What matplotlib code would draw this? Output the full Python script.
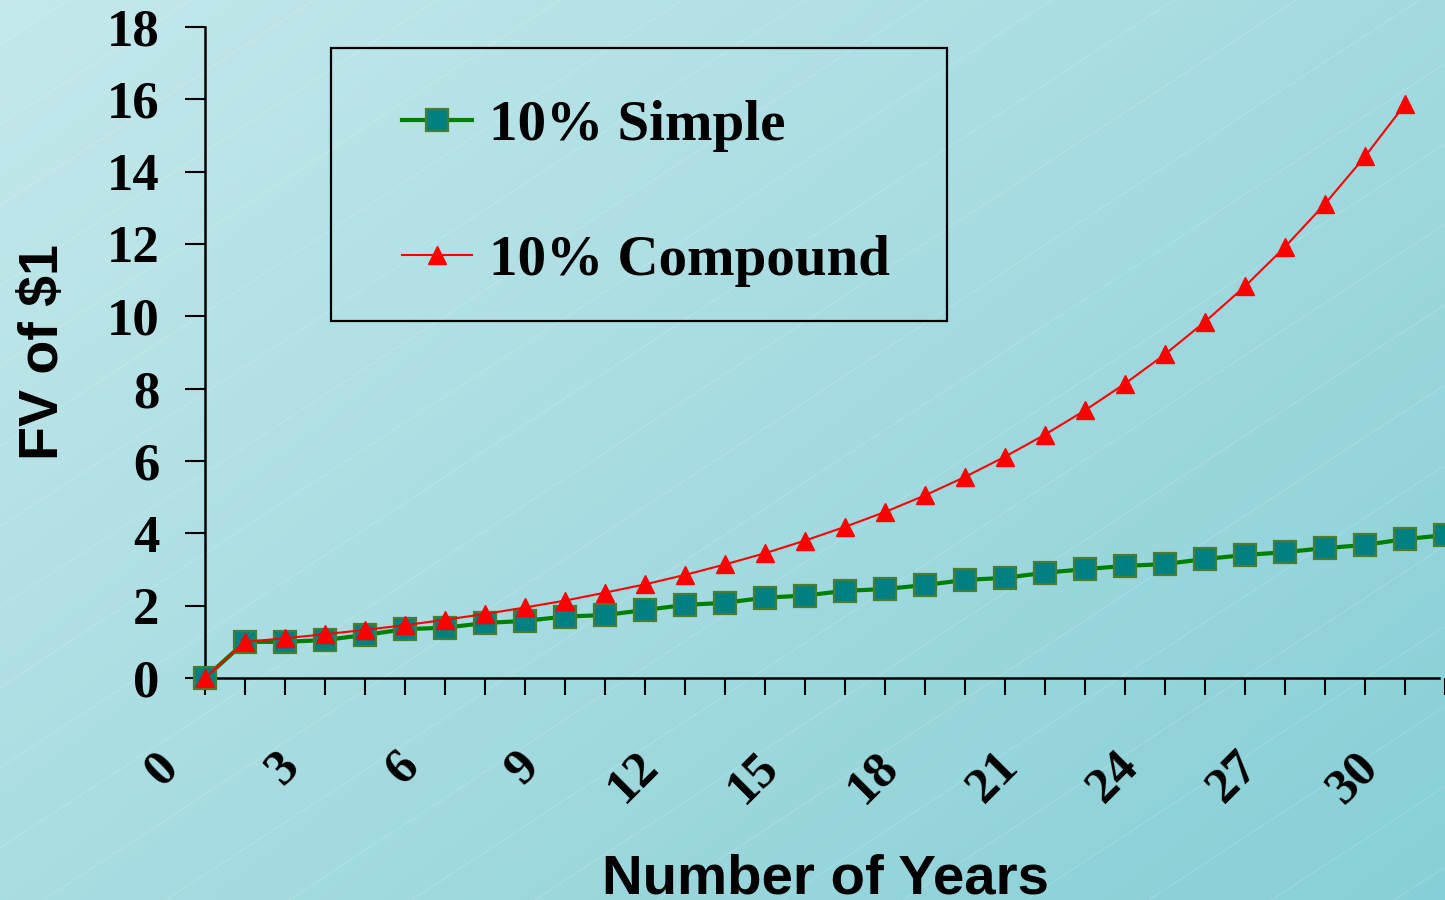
import numpy as np
import matplotlib
matplotlib.use("Agg")
import matplotlib.pyplot as plt
from matplotlib.transforms import ScaledTranslation
from matplotlib.patches import Rectangle

# ---------------- data ----------------
period_index = list(range(32))
simple_values = [0.00, 1.00, 1.00, 1.05, 1.19, 1.35, 1.39, 1.52, 1.58, 1.70, 1.74,
                 1.88, 2.02, 2.08, 2.22, 2.28, 2.41, 2.46, 2.57, 2.71, 2.77, 2.91,
                 3.01, 3.10, 3.15, 3.29, 3.40, 3.48, 3.59, 3.68, 3.84, 3.95]
compound_values = [0.00, 1.00, 1.10, 1.21, 1.33, 1.46, 1.61, 1.77, 1.95, 2.14, 2.36,
                   2.59, 2.85, 3.14, 3.45, 3.80, 4.18, 4.59, 5.05, 5.56, 6.12, 6.73,
                   7.40, 8.14, 8.95, 9.85, 10.83, 11.92, 13.11, 14.42, 15.86]
x_tick_labels = ['0', '3', '6', '9', '12', '15', '18', '21', '24', '27', '30']
y_ticks = [0, 2, 4, 6, 8, 10, 12, 14, 16, 18]
series_names = ['10% Simple', '10% Compound']

W, H = 1445, 900
fig = plt.figure(figsize=(W / 100, H / 100), dpi=100)

# ---------------- background gradient ----------------
bg = fig.add_axes([0, 0, 1, 1], zorder=-10)
gx, gy = np.meshgrid(np.linspace(0, 1, 400), np.linspace(0, 1, 250))
t = 0.55 * gx + 0.45 * gy
c0 = np.array([0.77, 0.912, 0.925])
c1 = np.array([0.53, 0.812, 0.84])
img = c0[None, None, :] * (1 - t[..., None]) + c1[None, None, :] * t[..., None]
bg.imshow(img, aspect='auto', extent=[0, 1, 1, 0], interpolation='bilinear')
# faint diagonal texture lines
for k in np.arange(-1.5, 1.6, 0.085):
    bg.plot([k, k + 1.0], [1.0, -0.05], color='white', lw=0.5, alpha=0.25)
bg.set_xlim(0, 1)
bg.set_ylim(1, 0)
bg.axis('off')

# ---------------- main axes ----------------
left_px, right_px, top_px, bot_px = 165, 1445, 27, 678
ax = fig.add_axes([left_px / W, 1 - bot_px / H, (right_px - left_px) / W, (bot_px - top_px) / H])
ax.patch.set_alpha(0)

x_right = -1 + (right_px - left_px) / 40.19
ax.set_xlim(-1, x_right)
ax.set_ylim(0, 18)

ax.plot(period_index[:len(simple_values)], simple_values, color='#008000', lw=3,
        marker='s', ms=16, mfc='#008080', mec='#4a7d2f', mew=1.6,
        clip_on=False, zorder=3, label=series_names[0])
ax.plot(period_index[:len(compound_values)], compound_values, color='#ff0000', lw=1.5,
        marker='^', ms=13, mfc='#ff0000', mec='#ff0000',
        clip_on=False, zorder=4, label=series_names[1])

for s in ['top', 'right']:
    ax.spines[s].set_visible(False)
ax.spines['left'].set_position(('data', 0))
ax.spines['bottom'].set_bounds(0, x_right)
for s in ['left', 'bottom']:
    ax.spines[s].set_linewidth(1.8)
    ax.spines[s].set_color('black')

# y ticks
ax.set_yticks(y_ticks)
ax.set_yticklabels([str(v) for v in y_ticks])
ax.tick_params(axis='y', direction='out', length=14.5, width=1.5, pad=18.5,
               labelsize=38)
for lab in ax.get_yticklabels():
    lab.set_fontfamily('Liberation Serif')
    lab.set_fontweight('bold')

# x ticks: minor ticks at every period, labelled major ticks
ax.set_xticks(period_index, minor=True)
ax.xaxis.remove_overlapping_locs = False
label_pos = [int(l) - 1 for l in x_tick_labels]
ax.set_xticks(label_pos)
ax.set_xticklabels(x_tick_labels, rotation=45, ha='right')
ax.tick_params(axis='x', which='minor', direction='out', length=12.5, width=1.5)
ax.tick_params(axis='x', which='major', length=0, pad=47, labelsize=37)
off = ScaledTranslation(23 / 100, 0, fig.dpi_scale_trans)
for lab in ax.get_xticklabels():
    lab.set_fontfamily('Liberation Serif')
    lab.set_fontweight('bold')
    lab.set_transform(lab.get_transform() + off)

# axis labels
ax.set_ylabel('FV of $1', fontsize=40, fontweight='bold', family='Liberation Sans',
              va='center')
ax.yaxis.set_label_coords((44 - left_px) / (right_px - left_px), 0.5)
ax.set_xlabel('Number of Years', fontsize=40.6, fontweight='bold', family='Liberation Sans',
              va='baseline')
ax.xaxis.set_label_coords((826 - left_px) / (right_px - left_px),
                          (bot_px - 893) / (bot_px - top_px))

# legend
leg = ax.legend(loc='upper left', bbox_to_anchor=(402 / W, 1 - 100 / H),
                bbox_transform=fig.transFigure, frameon=False, borderpad=0,
                borderaxespad=0, handlelength=1.23, handletextpad=0.3,
                labelspacing=1.46,
                prop={'family': 'Liberation Serif', 'weight': 'bold', 'size': 41})
fig.add_artist(Rectangle((331 / W, 1 - 321 / H), (947 - 331) / W, (321 - 48) / H,
                         transform=fig.transFigure, fill=False, edgecolor='black',
                         lw=1.6, zorder=5))

fig.savefig('out.png', dpi=100)
